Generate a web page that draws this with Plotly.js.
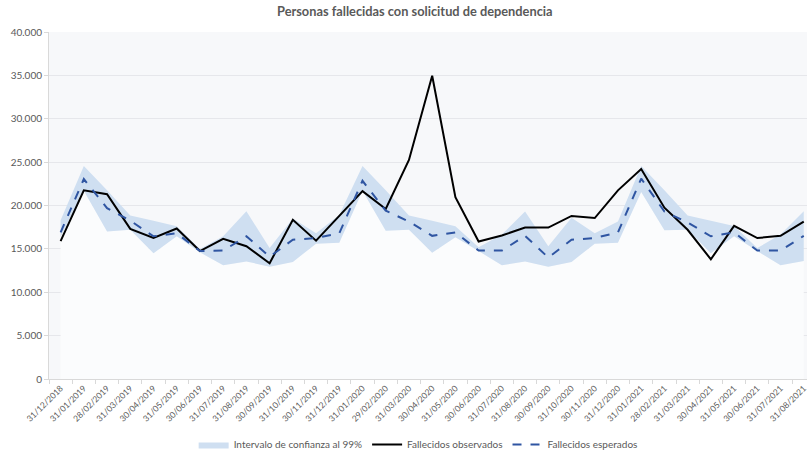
<!DOCTYPE html>
<html>
<head>
<meta charset="utf-8">
<script src="https://cdn.plot.ly/plotly-3.0.1.min.js"></script>
<style>html,body{margin:0;padding:0;background:#fff;}#chart{width:807px;height:459px;}</style>
</head>
<body>
<div id="chart"></div>
<script>
const dates = ["31/12/2018","31/01/2019","28/02/2019","31/03/2019","30/04/2019","31/05/2019","30/06/2019","31/07/2019","31/08/2019","30/09/2019","31/10/2019","30/11/2019","31/12/2019","31/01/2020","29/02/2020","31/03/2020","30/04/2020","31/05/2020","30/06/2020","31/07/2020","31/08/2020","30/09/2020","31/10/2020","30/11/2020","31/12/2020","31/01/2021","28/02/2021","31/03/2021","30/04/2021","31/05/2021","30/06/2021","31/07/2021","31/08/2021"];
const observados = [15900,21750,21300,17300,16250,17350,14750,16150,15300,13350,18350,15950,18800,21650,19600,25250,34950,20950,15850,16550,17450,17450,18800,18550,21750,24200,19750,17200,13800,17650,16250,16500,18150];
const esperados = [16900,23050,19700,18250,16450,16800,14750,14800,16450,14100,16050,16250,16800,22850,19400,18150,16500,16900,14800,14800,16500,14000,16050,16250,16900,23100,19300,18050,16450,16900,14800,14800,16500];
const superior = [18300,24550,21750,18850,18250,17600,15000,16450,19350,15100,18500,16800,18900,24550,21750,18850,18250,17600,15200,16650,19300,15300,18600,16800,18150,24550,21750,18850,18250,17650,15100,16650,19350];
const inferior = [16400,21700,17000,17200,14500,16450,14600,13100,13550,12950,13500,15600,15700,21700,17100,17200,14550,16350,14750,13100,13550,12950,13500,15600,15700,21550,17150,17200,14500,16450,14750,13100,13600];

const gray = '#595959';
const traces = [
  {x: dates, y: inferior, type: 'scatter', mode: 'lines', fill: 'tozeroy', fillcolor: '#fbfcfd',
   line: {width: 0, color: 'rgba(0,0,0,0)'}, showlegend: false, hoverinfo: 'skip'},
  {x: dates, y: superior, type: 'scatter', mode: 'lines', fill: 'tonexty', fillcolor: '#cfdff1',
   line: {width: 0, color: 'rgba(0,0,0,0)'}, name: 'Intervalo de confianza al 99%'},
  {x: dates, y: observados, type: 'scatter', mode: 'lines', line: {color: '#000000', width: 2},
   name: 'Fallecidos observados'},
  {x: dates, y: esperados, type: 'scatter', mode: 'lines', line: {color: '#2f55a2', width: 2, dash: 'dash'},
   name: 'Fallecidos esperados'}
];

const layout = {
  width: 807, height: 459,
  margin: {l: 49, r: 0, t: 32, b: 74},
  paper_bgcolor: '#ffffff',
  plot_bgcolor: '#f7f8fa',
  separators: ',.',
  font: {family: 'Lato, "Open Sans", sans-serif', color: gray, size: 10},
  title: {text: 'Personas fallecidas con solicitud de dependencia', x: 0.514, xanchor: 'center', y: 0.974, yanchor: 'middle',
          font: {family: 'Lato, "Open Sans", sans-serif', size: 12.8, color: gray, weight: 'bold'}},
  xaxis: {type: 'category', range: [-0.5, 32.14], tickangle: -45, tickson: 'boundaries',
          ticks: 'outside', ticklen: 4, tickcolor: '#d9d9d9', showgrid: false,
          showline: true, linecolor: '#d9d9d9', linewidth: 1,
          tickfont: {size: 8.5, color: gray}, fixedrange: true, automargin: false},
  yaxis: {range: [0, 40000], dtick: 5000, tickformat: ',d', showgrid: true, gridcolor: '#e6e7eb',
          zeroline: false, showline: true, linecolor: '#d9d9d9', ticks: 'outside', ticklen: 4, tickcolor: '#d9d9d9',
          tickfont: {size: 10, color: gray}, fixedrange: true, automargin: false},
  legend: {orientation: 'h', x: 0.487, xanchor: 'center', y: -0.19, yanchor: 'middle',
           font: {size: 10, color: gray}, bgcolor: 'rgba(0,0,0,0)', traceorder: 'normal'},
  showlegend: true
};

Plotly.newPlot('chart', traces, layout, {displayModeBar: false, staticPlot: true});
</script>
</body>
</html>
